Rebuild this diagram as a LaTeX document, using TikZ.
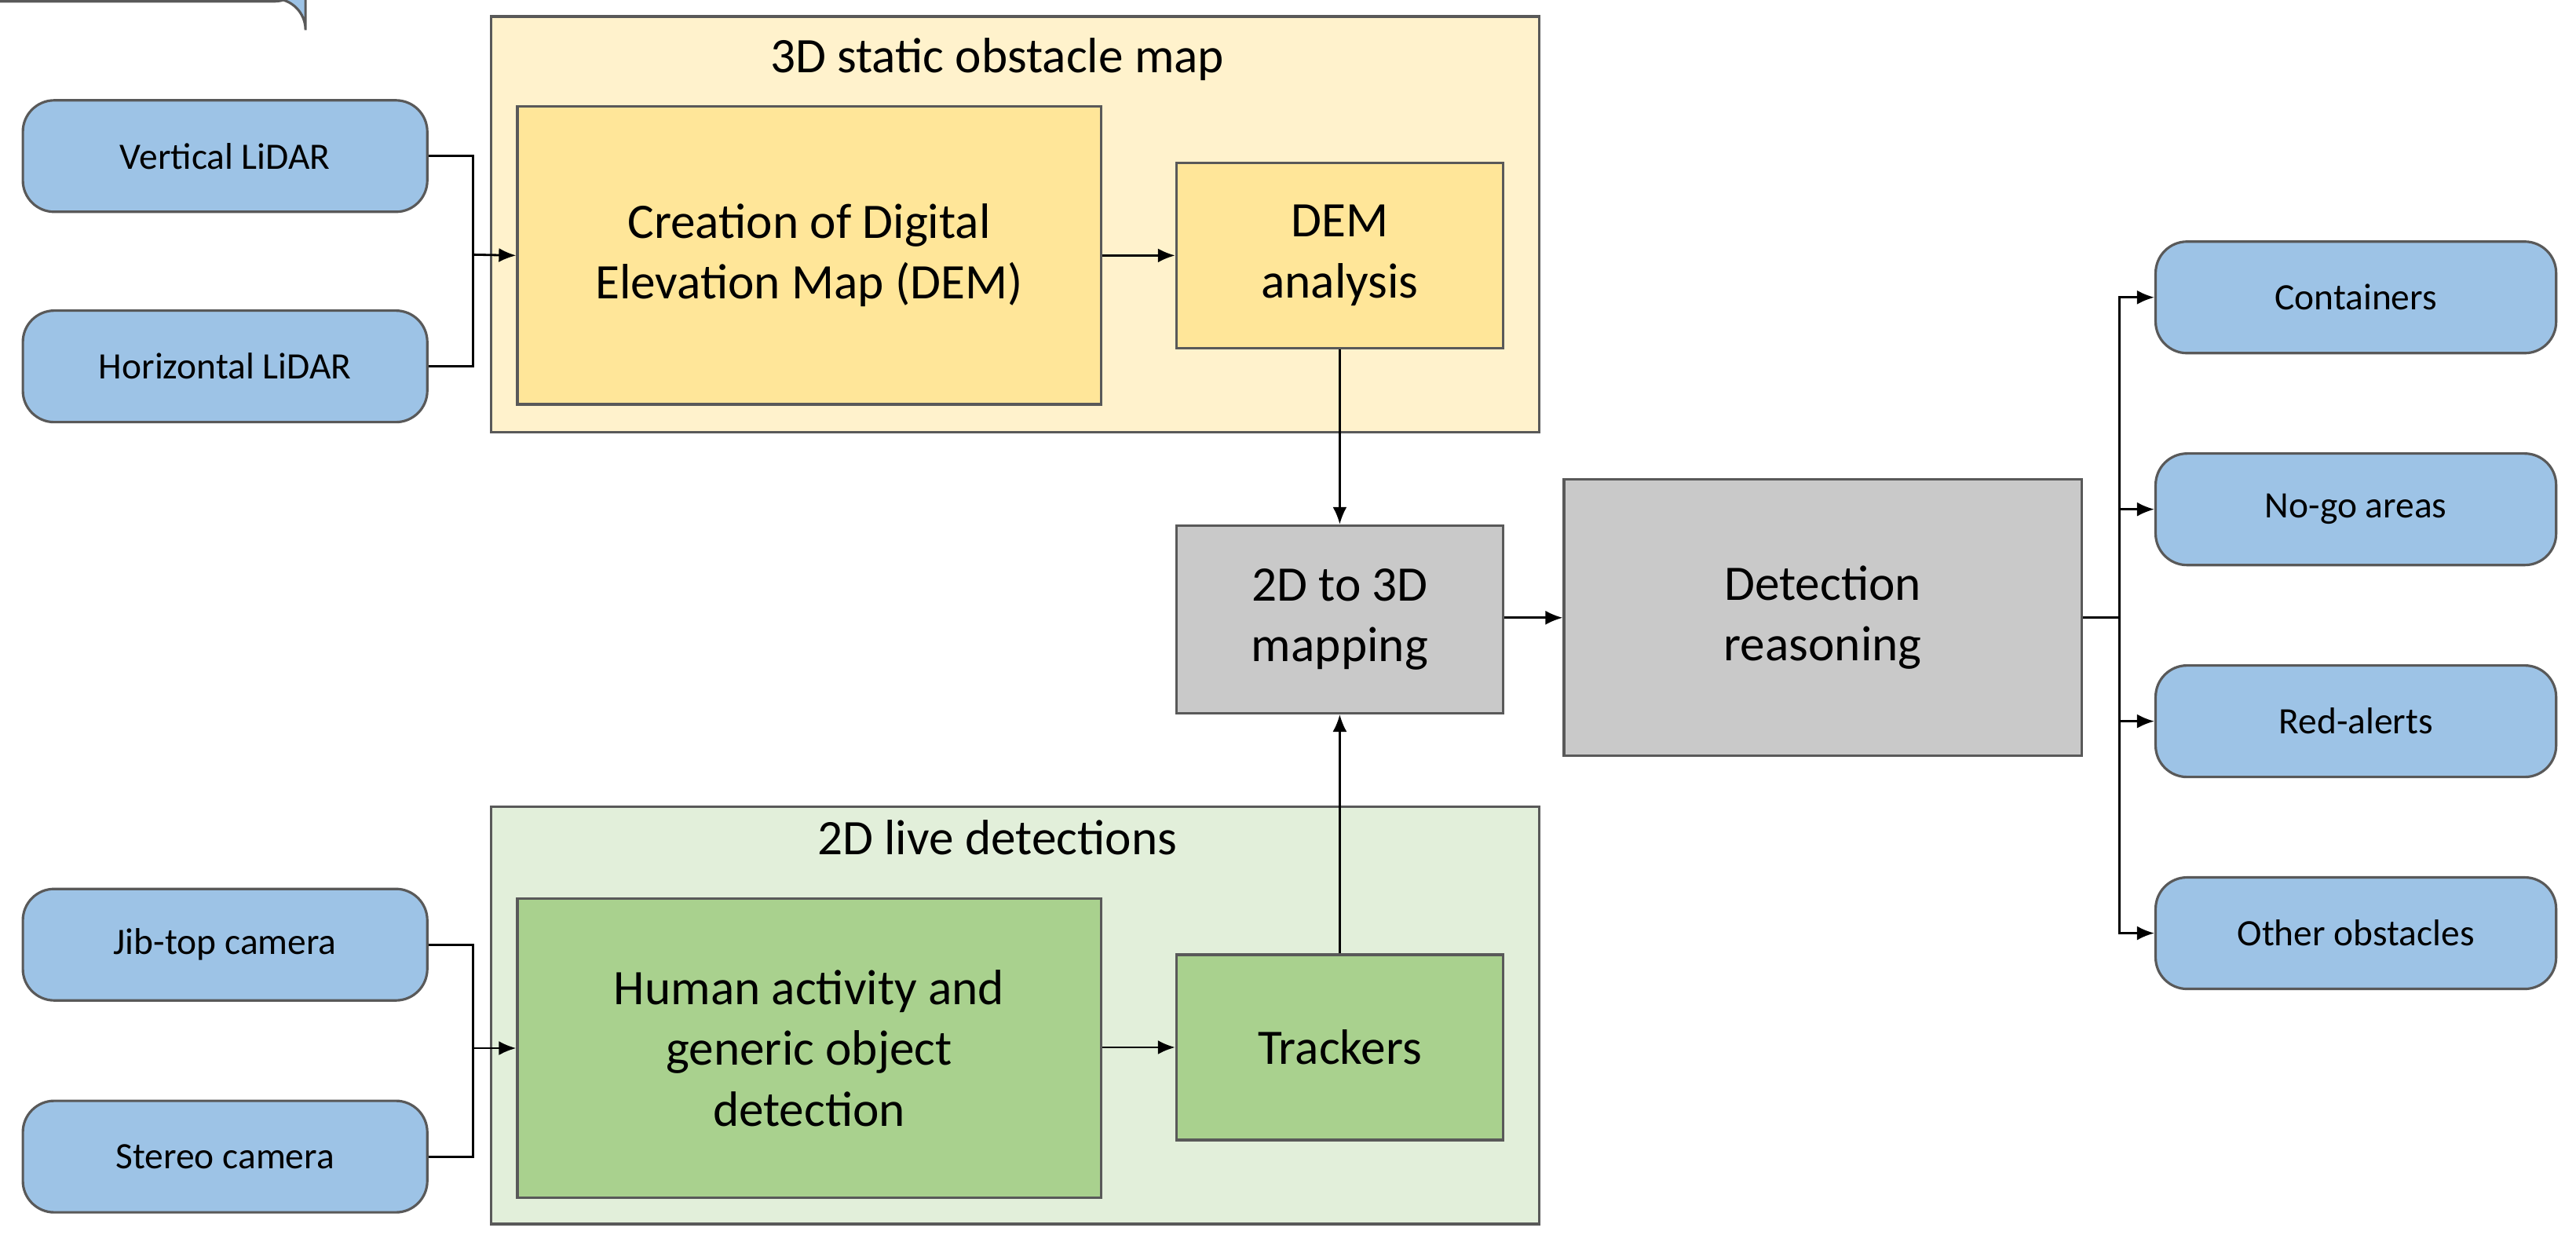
\documentclass[tikz,border=0pt]{standalone}
\usepackage{fontspec}
\setmainfont{Carlito}
\usetikzlibrary{arrows.meta}
\definecolor{bl}{HTML}{9DC3E6}
\definecolor{yo}{HTML}{FFF2CC}
\definecolor{yi}{HTML}{FFE699}
\definecolor{go}{HTML}{E2EFDA}
\definecolor{gi}{HTML}{A9D18E}
\definecolor{gr}{HTML}{C9C9C9}
\definecolor{ed}{HTML}{595959}
\begin{document}
\begin{tikzpicture}[x=0.020925cm,y=-0.020925cm,
  every node/.style={inner sep=0pt,align=center},
  sm/.style={draw=ed,line width=0.9pt,fill=bl,rounded corners=4mm,font=\fontsize{13.5}{16}\selectfont},
  big/.style={draw=ed,line width=0.9pt,font=\fontsize{18}{22}\selectfont},
  grp/.style={draw=ed,line width=0.9pt},
  arr/.style={-{Latex[length=2.2mm,width=1.8mm]},line width=0.8pt}]
\useasboundingbox (0,0) rectangle (1568,758);
% groups
\draw[grp,fill=yo] (299,10) rectangle (937,263);
\node[font=\fontsize{18}{22}\selectfont] (t1) at (607,36) {3D static obstacle map};
\draw[grp,fill=go] (299,491) rectangle (937,745);
\node[font=\fontsize{18}{22}\selectfont] (t2) at (607,510) {2D live detections};
% small boxes
\node[sm,minimum width=246\pgflinewidth] at (0,0) {}; 
\path (14,62) rectangle (260,128);
\node[sm,minimum width=5.15cm,minimum height=1.42cm] (vl) at (137,95) {Vertical LiDAR};
\node[sm,minimum width=5.15cm,minimum height=1.42cm] (hl) at (137,223) {Horizontal LiDAR};
\node[sm,minimum width=5.15cm,minimum height=1.42cm] (jc) at (137,575) {Jib-top camera};
\node[sm,minimum width=5.15cm,minimum height=1.42cm] (sc) at (137,704) {Stereo camera};
\node[sm,minimum width=5.1cm,minimum height=1.42cm] (c1) at (1434,181) {Containers};
\node[sm,minimum width=5.1cm,minimum height=1.42cm] (c2) at (1434,310) {No-go areas};
\node[sm,minimum width=5.1cm,minimum height=1.42cm] (c3) at (1434,439) {Red-alerts};
\node[sm,minimum width=5.1cm,minimum height=1.42cm] (c4) at (1434,568) {Other obstacles};
% big boxes
\node[big,fill=yi,minimum width=7.43cm,minimum height=3.79cm] (dem) at (492.5,155.5) {Creation of Digital\\Elevation Map (DEM)};
\node[big,fill=yi,minimum width=4.16cm,minimum height=2.36cm] (da) at (815.5,155.5) {DEM\\analysis};
\node[big,fill=gr,minimum width=4.16cm,minimum height=2.39cm] (map) at (815.5,377) {2D to 3D\\mapping};
\node[big,fill=gr,minimum width=6.59cm,minimum height=3.52cm] (dr) at (1109.5,376) {Detection\\reasoning};
\node[big,fill=gi,minimum width=7.43cm,minimum height=3.81cm] (ha) at (492.5,638) {Human activity and\\generic object\\detection};
\node[big,fill=gi,minimum width=4.16cm,minimum height=2.36cm] (tr) at (815.5,637.5) {Trackers};
% connectors
\coordinate (j1) at (288,155);
\coordinate (j2) at (288,638);
\coordinate (j3) at (1290,376);
\draw[line width=0.8pt] (vl.east) -| (j1) |- (hl.east);
\draw[arr] (j1) -- (dem.west);
\draw[line width=0.8pt] (jc.east) -| (j2) |- (sc.east);
\draw[arr] (j2) -- (ha.west);
\draw[arr] (dem) -- (da);
\draw[arr] (ha.east |- tr) -- (tr.west);
\draw[arr] (da) -- (map);
\draw[arr] (tr) -- (map);
\draw[arr] (map.east |- dr) -- (dr.west);
\draw[line width=0.8pt] (dr.east) -- (j3);
\draw[arr] (j3) |- (c1.west);
\draw[arr] (j3) |- (c2.west);
\draw[arr] (j3) |- (c3.west);
\draw[arr] (j3) |- (c4.west);
\end{tikzpicture}
\end{document}
